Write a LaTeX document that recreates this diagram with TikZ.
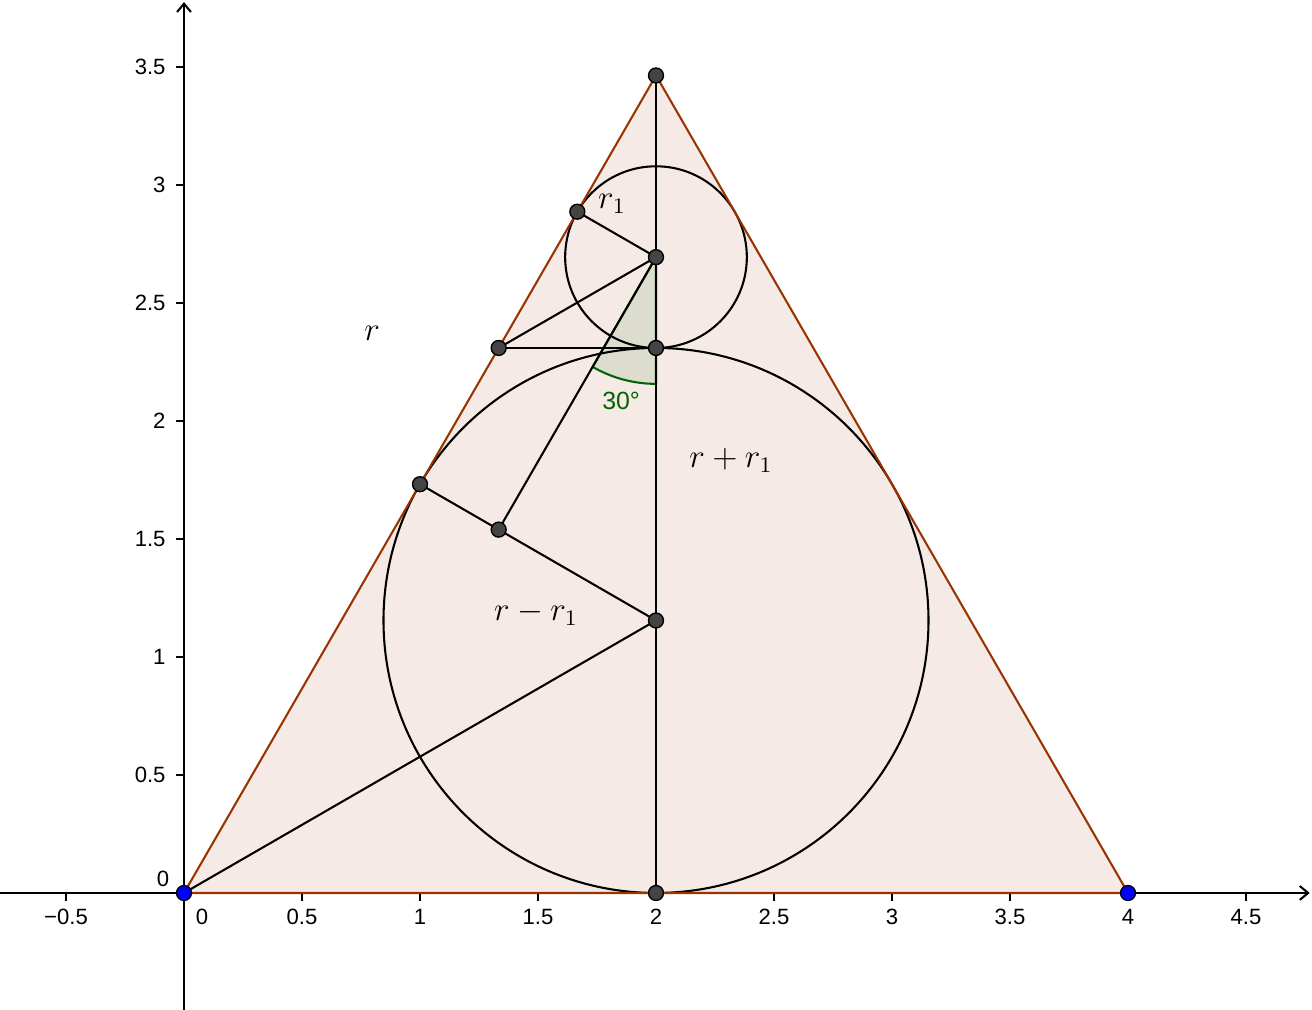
\documentclass[tikz,border=0pt]{standalone}
\usepackage{fontspec}
\newfontfamily\axisfont{Liberation Sans}
\usetikzlibrary{arrows.meta}
\definecolor{ggbrown}{RGB}{153,51,0}
\definecolor{ggfill}{RGB}{245,234,230}
\definecolor{ggangle}{RGB}{220,221,207}
\definecolor{gggreen}{RGB}{0,100,0}
\definecolor{ggpoint}{RGB}{68,68,68}

\tikzset{
  pt/.style={circle,draw=black,line width=0.5pt,fill=ggpoint,inner sep=0pt,minimum size=5.4pt},
  freept/.style={pt,fill=blue},
  seg/.style={line width=0.75pt,black},
  axisline/.style={line width=0.75pt,-{Straight Barb[length=3pt,width=5pt]}},
  ticklabel/.style={font=\axisfont\fontsize{8}{10}\selectfont,inner sep=0pt},
  mathlabel/.style={font=\fontsize{12}{14}\selectfont,inner sep=0pt}
}

\begin{document}
\begin{tikzpicture}[x=3cm,y=3cm,line join=round]
  \useasboundingbox (-0.7797,-0.4958) rectangle (4.7797,3.7839);

  \coordinate (A)  at (0,0);
  \coordinate (B)  at (4,0);
  \coordinate (C)  at (2,3.4641);
  \coordinate (M)  at (2,0);
  \coordinate (O)  at (2,1.1547);
  \coordinate (O1) at (2,2.6943);
  \coordinate (T)  at (2,2.3094);
  \coordinate (P)  at (1,1.7321);
  \coordinate (Q)  at (1.3333,2.3094);
  \coordinate (R)  at (1.6667,2.8868);
  \coordinate (S)  at (1.3333,1.5396);
  \coordinate (xstart) at (-0.7797,0);
  \coordinate (xend)   at (4.77,0);
  \coordinate (ystart) at (0,-0.4958);
  \coordinate (yend)   at (0,3.775);

  \draw[axisline] (xstart) -- (xend);
  \draw[axisline] (ystart) -- (yend);
  \foreach \x/\t [count=\i] in {-0.5/−0.5,0.5/0.5,1/1,1.5/1.5,2/2,2.5/2.5,3/3,3.5/3.5,4/4,4.5/4.5}{
    \draw[line width=0.75pt] (\x,0) -- ++(0,-0.035);
    \node[ticklabel] (xt\i) at (\x,-0.1) {\t};
  }
  \foreach \y [count=\i] in {0.5,1,1.5,2,2.5,3,3.5}{
    \draw[line width=0.75pt] (0,\y) -- ++(-0.035,0);
    \node[ticklabel,anchor=east] (yt\i) at (-0.076,\y) {\y};
  }
  \node[ticklabel] (xt0) at (0.076,-0.1) {0};
  \node[ticklabel] (yt0) at (-0.089,0.059) {0};

  \fill[ggfill] (A) -- (B) -- (C) -- cycle;
  \filldraw[fill=ggangle,draw=gggreen,line width=0.75pt] (O1) -- ++(270:0.537)
    arc[start angle=270,end angle=240,radius=0.537] -- cycle;

  \draw[seg] (O) circle[radius=1.1547];
  \draw[seg] (O1) circle[radius=0.3849];
  \draw[seg] (A) -- (O);
  \draw[seg] (M) -- (C);
  \draw[seg] (P) -- (O);
  \draw[seg] (S) -- (O1);
  \draw[seg] (Q) -- (T);
  \draw[seg] (Q) -- (O1);
  \draw[seg] (R) -- (O1);
  \draw[ggbrown,line width=0.75pt] (A) -- (B) -- (C) -- cycle;

  \node[mathlabel] (lr)     at (0.797,2.373) {$r$};
  \node[mathlabel] (lr1)    at (1.814,2.919) {$r_1$};
  \node[mathlabel] (lsum)   at (2.318,1.831) {$r+r_1$};
  \node[mathlabel] (ldiff)  at (1.492,1.186) {$r-r_1$};
  \node[ticklabel,text=gggreen,font=\axisfont\fontsize{9}{11}\selectfont] (langle) at (1.852,2.085) {30°};

  \foreach \p in {M,T,O,O1,C,P,Q,R,S}
    \node[pt] (d\p) at (\p) {};
  \node[freept] (dA) at (A) {};
  \node[freept] (dB) at (B) {};
\end{tikzpicture}
\end{document}
